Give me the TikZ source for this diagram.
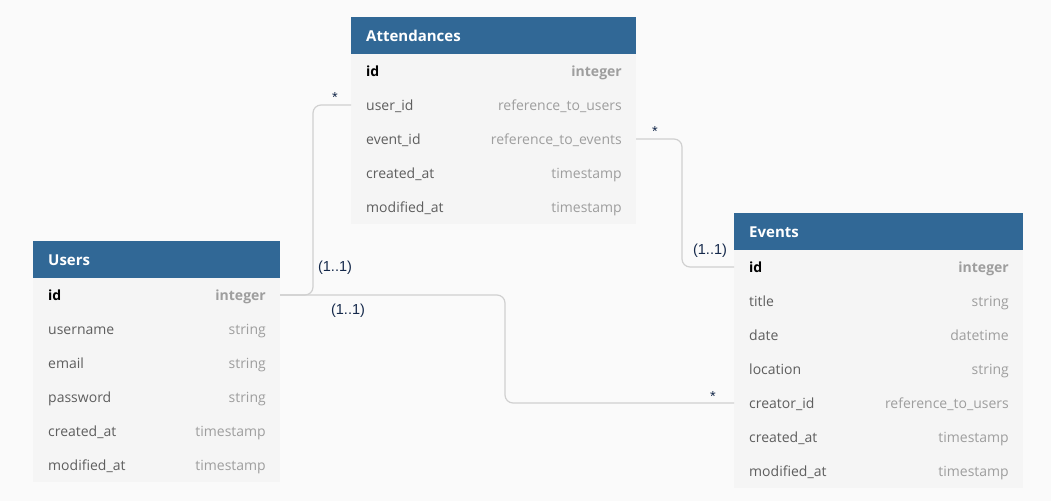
\documentclass[tikz,border=0pt]{standalone}
\usepackage{fontspec}
\setmainfont{Open Sans}
\newfontfamily\labfont{Liberation Sans}
\definecolor{hdrblue}{HTML}{316896}
\definecolor{rowgray}{HTML}{F5F5F5}
\definecolor{bggray}{HTML}{FAFAFA}
\definecolor{fieldtxt}{HTML}{5E5E5E}
\definecolor{typetxt}{HTML}{9E9E9E}
\definecolor{conncol}{HTML}{D0D0D0}
\definecolor{labcol}{HTML}{14284A}
\tikzset{
  hdr/.style={fill=hdrblue, anchor=north west, minimum height=37pt, inner sep=0pt, outer sep=0pt},
  hdrtext/.style={text=white, font=\fontsize{15}{18}\selectfont\bfseries, anchor=mid west, inner sep=0pt, yshift=-3pt},
  erow/.style={fill=rowgray, anchor=north west, minimum height=34pt, inner sep=0pt, outer sep=0pt},
  fname/.style={text=fieldtxt, font=\fontsize{14}{17}\selectfont, anchor=mid west, inner sep=0pt, yshift=-3pt},
  ftype/.style={text=typetxt, font=\fontsize{14}{17}\selectfont, anchor=mid east, inner sep=0pt, yshift=-3pt},
  fnamepk/.style={text=black, font=\fontsize{14}{17}\selectfont\bfseries, anchor=mid west, inner sep=0pt, yshift=-3pt},
  ftypepk/.style={text=typetxt, font=\fontsize{14}{17}\selectfont\bfseries, anchor=mid east, inner sep=0pt, yshift=-3pt},
  conn/.style={draw=conncol, line width=1.2pt, rounded corners=8pt},
  card/.style={text=labcol, font=\labfont\fontsize{14.5}{17}\selectfont, inner sep=0pt},
}
\newcommand\ehdr[5]{% name, x, y, width, title
  \node[hdr, minimum width=#4pt] (#1) at (#2,#3) {};
  \node[hdrtext] at ([xshift=15pt]#1.west) {#5};
}
\newcommand\erowpk[6]{% name, x, y, width, field, type
  \node[erow, minimum width=#4pt] (#1) at (#2,#3) {};
  \node[fnamepk] at ([xshift=15pt]#1.west) {#5};
  \node[ftypepk] at ([xshift=-14pt]#1.east) {#6};
}
\newcommand\erowf[6]{% name, x, y, width, field, type
  \node[erow, minimum width=#4pt] (#1) at (#2,#3) {};
  \node[fname] at ([xshift=15pt]#1.west) {#5};
  \node[ftype] at ([xshift=-14pt]#1.east) {#6};
}
\begin{document}
\begin{tikzpicture}[x=1pt,y=-1pt]
\fill[bggray] (0,0) rectangle (1051,501);
\useasboundingbox (0,0) rectangle (1051,501);
% Attendances
\ehdr{att}{351}{17}{285}{Attendances}
\erowpk{att-id}{351}{54}{285}{id}{integer}
\erowf{att-user}{351}{88}{285}{user\_id}{reference\_to\_users}
\erowf{att-event}{351}{122}{285}{event\_id}{reference\_to\_events}
\erowf{att-created}{351}{156}{285}{created\_at}{timestamp}
\erowf{att-modified}{351}{190}{285}{modified\_at}{timestamp}
% Users
\ehdr{users}{33}{241}{247}{Users}
\erowpk{users-id}{33}{278}{247}{id}{integer}
\erowf{users-name}{33}{312}{247}{username}{string}
\erowf{users-email}{33}{346}{247}{email}{string}
\erowf{users-pw}{33}{380}{247}{password}{string}
\erowf{users-created}{33}{414}{247}{created\_at}{timestamp}
\erowf{users-modified}{33}{448}{247}{modified\_at}{timestamp}
% Events
\ehdr{ev}{734}{213}{289}{Events}
\erowpk{ev-id}{734}{250}{289}{id}{integer}
\erowf{ev-title}{734}{284}{289}{title}{string}
\erowf{ev-date}{734}{318}{289}{date}{datetime}
\erowf{ev-loc}{734}{352}{289}{location}{string}
\erowf{ev-creator}{734}{386}{289}{creator\_id}{reference\_to\_users}
\erowf{ev-created}{734}{420}{289}{created\_at}{timestamp}
\erowf{ev-modified}{734}{454}{289}{modified\_at}{timestamp}
% connectors
\draw[conn] (users-id.east) -- ++(33,0) |- (att-user.west);
\draw[conn] (att-event.east) -- ++(46,0) |- (ev-id.west);
\draw[conn] (users-id.east) -- ++(225,0) |- (ev-creator.west);
% cardinalities
\node[card] (c1) at (335,98) {*};
\node[card] (c2) at (335,268) {(1..1)};
\node[card] (c3) at (655,132) {*};
\node[card] (c4) at (710,251) {(1..1)};
\node[card] (c5) at (348,311) {(1..1)};
\node[card] (c6) at (713,397) {*};
\end{tikzpicture}
\end{document}
